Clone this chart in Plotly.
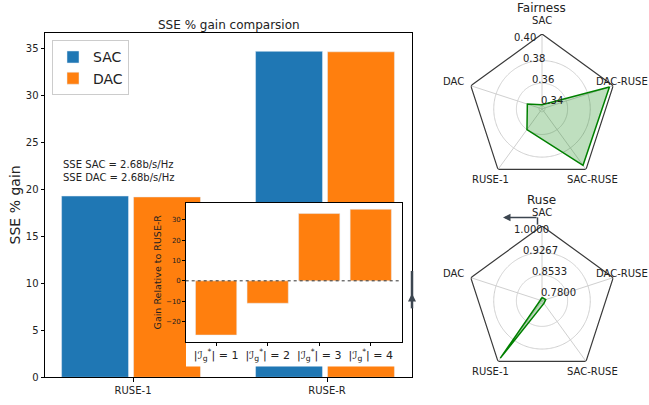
import numpy as np
import plotly.graph_objects as go

# ---- data ----
categories = ["RUSE-1", "RUSE-R"]
sac_gain = [19.3, 34.7]
dac_gain = [19.2, 34.65]

inset_labels = [
    "|ℐ<sub>g</sub><sup>*</sup>| = 1",
    "|ℐ<sub>g</sub><sup>*</sup>| = 2",
    "|ℐ<sub>g</sub><sup>*</sup>| = 3",
    "|ℐ<sub>g</sub><sup>*</sup>| = 4",
]
inset_gain = [-26.6, -11.0, 33.0, 35.1]

radar_axes = ["SAC", "DAC", "RUSE-1", "SAC-RUSE", "DAC-RUSE"]
fairness = [0.341, 0.351, 0.360, 0.399, 0.400]
fairness_ticks = [0.34, 0.36, 0.38, 0.40]
ruse = [0.781, 0.776, 1.0, 0.781, 0.783]
ruse_ticks = [0.78, 0.853333, 0.926667, 1.0]

BLUE = "#1f77b4"
ORANGE = "#ff7f0e"
TXT = "#222222"
FONT = "DejaVu Sans"
W, H = 649, 405


def px(x):
    return x / W


def py(y):
    return 1 - y / H


fig = go.Figure()

# ---- main grouped bars ----
idx = np.arange(len(categories))
fig.add_trace(go.Bar(x=idx - 0.196, y=sac_gain, width=0.345, name="SAC",
                     marker_color=BLUE, xaxis="x", yaxis="y"))
fig.add_trace(go.Bar(x=idx + 0.175, y=dac_gain, width=0.345, name="DAC",
                     marker_color=ORANGE, xaxis="x", yaxis="y"))

# white backdrop behind the inset tick labels
fig.add_trace(go.Scatter(x=[0], y=[0], mode="markers", marker=dict(opacity=0),
                         hoverinfo="skip", showlegend=False, xaxis="x2", yaxis="y2"))

# ---- inset bars ----
fig.add_trace(go.Bar(x=list(range(len(inset_gain))), y=inset_gain, width=0.8,
                     marker_color=ORANGE, showlegend=False, xaxis="x3", yaxis="y3"))

# ---- radar charts ----
angles = [i * 360 / len(radar_axes) for i in range(len(radar_axes))]
circle_theta = np.linspace(0, 360, 241)
RADAR_R = 76          # pixel radius of the pentagon frame
RADAR_CX = 542
annotations = []

# label offsets (pixels) of the spoke names around each radar centre
spoke_label_pos = [(0, -89.5, "center"), (-76, -27.5, "right"), (-52, 71.5, "center"),
                   (50, 71.5, "center"), (107.5, -27.5, "right")]


def add_radar(values, ticks, ticktext, rmin, rmax, polar, cy, title):
    for t in ticks[:-1]:
        fig.add_trace(go.Scatterpolar(r=[t] * len(circle_theta), theta=circle_theta,
                                      mode="lines", line=dict(color="#cfcfcf", width=1),
                                      hoverinfo="skip", showlegend=False, subplot=polar))
    fig.add_trace(go.Scatterpolar(r=[rmax] * (len(angles) + 1), theta=angles + angles[:1],
                                  mode="lines", line=dict(color="#3a3a3a", width=1.2),
                                  hoverinfo="skip", showlegend=False, subplot=polar))
    fig.add_trace(go.Scatterpolar(r=values + values[:1], theta=angles + angles[:1],
                                  mode="lines", fill="toself",
                                  fillcolor="rgba(0,128,0,0.25)",
                                  line=dict(color="green", width=1.5),
                                  showlegend=False, subplot=polar))
    # radial tick labels along the 112.5 degree ray, anchored bottom-left
    a = np.deg2rad(112.5)
    for t, s in zip(ticks, ticktext):
        r = (t - rmin) / (rmax - rmin) * RADAR_R
        annotations.append(dict(text=s, x=px(RADAR_CX + r * np.cos(a) - 1),
                                y=py(cy - r * np.sin(a) + 1), xref="paper", yref="paper",
                                showarrow=False, xanchor="left", yanchor="bottom",
                                borderpad=0, font=dict(size=10, color=TXT)))
    for name, (dx, dy, anchor) in zip(radar_axes, spoke_label_pos):
        annotations.append(dict(text=name, x=px(RADAR_CX + dx), y=py(cy + dy),
                                xref="paper", yref="paper", showarrow=False,
                                xanchor=anchor, yanchor="middle",
                                font=dict(size=10, color=TXT)))
    annotations.append(dict(text=title, x=px(541), y=py(cy - 102.5), xref="paper",
                            yref="paper", showarrow=False, xanchor="center",
                            yanchor="middle", font=dict(size=12, color=TXT)))


add_radar(fairness, fairness_ticks, ["%.2f" % t for t in fairness_ticks],
          0.3374, 0.4035, "polar", 110.5, "Fairness")
add_radar(ruse, ruse_ticks, ["%.4f" % t for t in ruse_ticks],
          0.7704, 1.0128, "polar2", 305.3, "Ruse")


def polar_layout(cy, rmin, rmax):
    return dict(
        domain=dict(x=[px(RADAR_CX - RADAR_R), px(RADAR_CX + RADAR_R)],
                    y=[py(cy + RADAR_R), py(cy - RADAR_R)]),
        bgcolor="rgba(0,0,0,0)",
        angularaxis=dict(rotation=90, direction="counterclockwise",
                         tickmode="array", tickvals=angles, ticktext=radar_axes,
                         showticklabels=False,
                         showline=False, showgrid=True, gridcolor="#d0d0d0", gridwidth=1,
                         ticks=""),
        radialaxis=dict(range=[rmin, rmax], showgrid=False, showline=False, ticks="",
                        showticklabels=False),
    )


axis_common = dict(showline=True, linecolor="black", linewidth=1, mirror=True,
                   showgrid=False, zeroline=False, ticks="outside", ticklen=3.5,
                   tickcolor="black", tickfont=dict(size=10, color=TXT))

fig.update_layout(
    width=W, height=H,
    margin=dict(l=0, r=0, t=0, b=0),
    paper_bgcolor="white", plot_bgcolor="white",
    font=dict(family=FONT, color=TXT),
    barmode="overlay",
    xaxis=dict(domain=[px(45), px(412)], range=[-0.454, 1.438],
               tickmode="array", tickvals=list(idx), ticktext=categories,
               anchor="y", **axis_common),
    yaxis=dict(domain=[py(383), py(34)], range=[0, 36.6], dtick=5,
               anchor="x", **axis_common),
    xaxis2=dict(domain=[px(186), px(402)], visible=False, anchor="y2", range=[0, 1]),
    yaxis2=dict(domain=[py(372), py(346)], visible=False, anchor="x2", range=[0, 1]),
    xaxis3=dict(domain=[px(185.7), px(401.7)], range=[-0.59, 3.6],
                tickmode="array", tickvals=list(range(len(inset_labels))),
                ticktext=inset_labels, anchor="y3",
                **{**axis_common, "tickfont": dict(size=11, color=TXT), "ticklen": 3}),
    yaxis3=dict(domain=[py(346.7), py(206)], range=[-29.8, 38.2],
                tickvals=[-20, -10, 0, 10, 20, 30], anchor="x3",
                title=dict(text="Gain Relative to RUSE-R", font=dict(size=9.5), standoff=2),
                **{**axis_common, "tickfont": dict(size=7, color=TXT), "ticklen": 2.5}),
    polar=polar_layout(110.5, 0.3374, 0.4035),
    polar2=polar_layout(305.3, 0.7704, 1.0128),
    legend=dict(x=px(52), y=py(41), xanchor="left", yanchor="top",
                bgcolor="white", bordercolor="#cccccc", borderwidth=1,
                font=dict(size=14, color=TXT), itemwidth=30, tracegroupgap=0),
    showlegend=True,
)

annotations += [
    dict(text="SSE % gain comparsion", x=px(228.5), y=py(25), xref="paper", yref="paper",
         showarrow=False, font=dict(size=12, color=TXT), xanchor="center", yanchor="middle"),
    dict(text="SSE % gain", x=px(15), y=py(208.5), xref="paper", yref="paper",
         showarrow=False, textangle=-90, font=dict(size=14, color=TXT),
         xanchor="center", yanchor="middle"),
    dict(text="SSE SAC = 2.68b/s/Hz<br>SSE DAC = 2.68b/s/Hz", x=px(61), y=py(159),
         xref="paper", yref="paper", showarrow=False, align="left",
         font=dict(size=10, color=TXT), xanchor="left", yanchor="top"),
    # stray arrows
    dict(text="", x=px(503), y=py(220.7), xref="paper", yref="paper", showarrow=True,
         ax=35, ay=0, arrowhead=2, arrowsize=1, arrowwidth=1.5, arrowcolor="#3c4650"),
    dict(text="", x=px(412), y=py(298), xref="paper", yref="paper", showarrow=True,
         ax=0, ay=14, arrowhead=2, arrowsize=0.8, arrowwidth=2, arrowcolor="#3c4650"),
]
fig.update_layout(annotations=annotations)

shapes = [
    dict(type="line", xref="x3 domain", yref="y3", x0=0, x1=1, y0=0, y1=0,
         line=dict(color="#333", width=1, dash="dot"), layer="above"),
    dict(type="line", xref="paper", yref="paper", x0=px(537.5), x1=px(537.5),
         y0=py(220.7), y1=py(228), line=dict(color="#3c4650", width=1.5)),
    dict(type="line", xref="paper", yref="paper", x0=px(412), x1=px(412),
         y0=py(275), y1=py(313), line=dict(color="#3c4650", width=2.5)),
]
fig.update_layout(shapes=shapes)

fig.write_html("out.html")
